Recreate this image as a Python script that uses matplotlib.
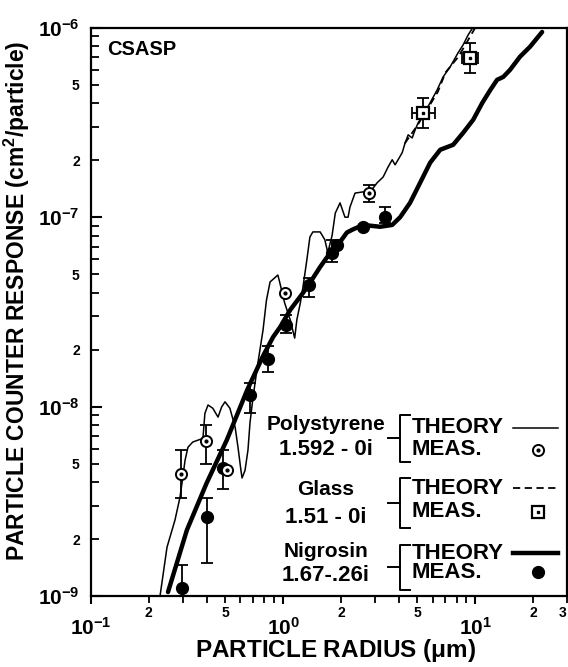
import numpy as np
import matplotlib.pyplot as plt
from matplotlib.lines import Line2D

plt.rcParams['font.family'] = ['Liberation Sans', 'DejaVu Sans']
plt.rcParams['font.weight'] = 'bold'
plt.rcParams['mathtext.fontset'] = 'custom'
plt.rcParams['mathtext.rm'] = 'Liberation Sans:bold'
plt.rcParams['mathtext.bf'] = 'Liberation Sans:bold'
plt.rcParams['mathtext.default'] = 'bf'

# polystyrene 1.592-0i, theory (thin line)
poly_theory_r = [0.229, 0.249, 0.274, 0.291, 0.301, 0.309, 0.320, 0.339, 0.383, 0.392,
                 0.407, 0.431, 0.459, 0.479, 0.499, 0.529, 0.563, 0.583, 0.604, 0.612,
                 0.634, 0.657, 0.673, 0.698, 0.74, 0.787, 0.82, 0.856, 0.94, 0.96,
                 1.02, 1.09, 1.15, 1.18, 1.23, 1.27, 1.33, 1.38, 1.43, 1.56,
                 1.65, 1.71, 1.80, 1.87, 1.98, 2.10, 2.18, 2.23, 2.37, 2.61,
                 2.81, 3.09, 3.32, 3.52, 3.70, 3.83, 3.97, 4.17, 4.32, 4.48,
                 4.70, 4.87, 5.05, 5.30, 5.83, 6.34, 6.81, 7.41, 8.15, 8.66,
                 9.2, 9.77]
poly_theory_s = [1.0e-9, 1.81e-9, 2.52e-9, 3.33e-9, 4.25e-9, 5.2e-9, 6.1e-9, 6.5e-9, 6.8e-9, 9.2e-9,
                 1.02e-8, 9.8e-9, 8.8e-9, 9.95e-9, 1.06e-8, 9.8e-9, 7.8e-9, 6.1e-9, 4.6e-9, 4.2e-9,
                 4.6e-9, 5.9e-9, 8.2e-9, 1.12e-8, 1.7e-8, 2.54e-8, 3.65e-8, 4.55e-8, 4.95e-8, 4.55e-8,
                 3.52e-8, 2.87e-8, 2.3e-8, 2.87e-8, 3.52e-8, 4.28e-8, 5.94e-8, 7.86e-8, 8.36e-8, 8.36e-8,
                 7.6e-8, 6.5e-8, 8.0e-8, 1.05e-7, 1.19e-7, 1.0e-7, 1.0e-7, 1.13e-7, 1.34e-7, 1.36e-7,
                 1.34e-7, 1.52e-7, 1.63e-7, 1.84e-7, 2.01e-7, 1.89e-7, 2.01e-7, 2.19e-7, 2.47e-7, 2.72e-7,
                 2.62e-7, 2.89e-7, 3.15e-7, 3.39e-7, 4.02e-7, 4.7e-7, 5.5e-7, 6.22e-7, 7.38e-7, 8.13e-7,
                 9.18e-7, 1.01e-6]

# glass 1.51-0i, theory (dashed)
glass_theory_r = [4.3, 5.0, 5.8, 6.4, 7.0, 8.15, 9.0, 10.0]
glass_theory_s = [2.45e-7, 3.05e-7, 3.9e-7, 4.6e-7, 5.8e-7, 7.0e-7, 8.3e-7, 1.0e-6]

# nigrosin 1.67-.26i, theory (thick line)
nig_theory_r = [0.252, 0.316, 0.40, 0.51, 0.65, 0.787, 0.888, 0.966, 1.09, 1.27,
                1.38, 1.56, 1.80, 1.98, 2.15, 2.3, 2.61, 3.2, 3.70, 4.07,
                4.58, 5.17, 5.83, 6.58, 7.68, 8.66, 9.77, 10.9, 12.0, 13.0,
                14.0, 15.2, 17.1, 19.3, 22.3]
nig_theory_s = [1.05e-9, 2.23e-9, 3.94e-9, 6.67e-9, 1.22e-8, 1.85e-8, 2.33e-8, 2.63e-8, 3.24e-8, 3.98e-8,
                4.5e-8, 5.46e-8, 6.7e-8, 7.4e-8, 8.3e-8, 8.6e-8, 9.1e-8, 8.9e-8, 9.1e-8, 1.0e-7,
                1.19e-7, 1.52e-7, 1.94e-7, 2.27e-7, 2.41e-7, 2.79e-7, 3.27e-7, 4.02e-7, 4.7e-7, 5.31e-7,
                5.5e-7, 6.0e-7, 7.03e-7, 7.94e-7, 9.5e-7]

# measurements (value, lower and upper end of error bar)
poly_meas_r = [0.294, 0.397, 0.51, 1.02, 2.81]
poly_meas_s = [4.4e-9, 6.6e-9, 4.6e-9, 3.98e-8, 1.34e-7]
poly_meas_lo = [3.3e-9, 5.0e-9, 4.6e-9, 3.98e-8, 1.2e-7]
poly_meas_hi = [5.9e-9, 8.0e-9, 4.6e-9, 3.98e-8, 1.48e-7]

glass_meas_r = [5.36, 9.4]
glass_meas_s = [3.56e-7, 6.95e-7]
glass_meas_lo = [2.96e-7, 5.8e-7]
glass_meas_hi = [4.27e-7, 8.3e-7]
glass_meas_rlo = [4.7, 8.5]
glass_meas_rhi = [6.2, 10.4]

nig_meas_r = [0.298, 0.40, 0.487, 0.67, 0.835, 1.04, 1.36, 1.80, 1.91, 2.61, 3.4]
nig_meas_s = [1.1e-9, 2.6e-9, 4.75e-9, 1.15e-8, 1.78e-8, 2.7e-8, 4.4e-8, 6.5e-8, 7.1e-8, 8.9e-8, 1.0e-7]
nig_meas_lo = [0.9e-9, 1.5e-9, 3.67e-9, 0.93e-8, 1.52e-8, 2.45e-8, 3.8e-8, 5.8e-8, 7.1e-8, 8.9e-8, 0.93e-7]
nig_meas_hi = [1.46e-9, 3.3e-9, 5.9e-9, 1.33e-8, 2.1e-8, 3.05e-8, 4.8e-8, 7.6e-8, 7.1e-8, 8.9e-8, 1.13e-7]


def draw_errors(ax, r, s, lo, hi, rlo=None, rhi=None):
    r, s, lo, hi = map(np.array, (r, s, lo, hi))
    m = (hi > s) | (lo < s)
    yerr = [s[m] - lo[m], hi[m] - s[m]]
    xerr = None
    if rlo is not None:
        rlo, rhi = np.array(rlo), np.array(rhi)
        xerr = [r[m] - rlo[m], rhi[m] - r[m]]
    ax.errorbar(r[m], s[m], yerr=yerr, xerr=xerr, fmt='none', ecolor='black',
                elinewidth=1.3, capsize=4.5, capthick=1.3, zorder=3)


fig = plt.figure(figsize=(5.68, 6.67), dpi=100)
ax = fig.add_axes([0.160, 0.1064, 0.838, 0.852])
ax.set_xscale('log')
ax.set_yscale('log')

ax.plot(poly_theory_r, poly_theory_s, color='black', lw=1.1, zorder=2)
ax.plot(glass_theory_r, glass_theory_s, color='black', lw=1.3, ls=(0, (4, 2.5)), zorder=2)
ax.plot(nig_theory_r, nig_theory_s, color='black', lw=3.2, solid_capstyle='round', zorder=2)

draw_errors(ax, poly_meas_r, poly_meas_s, poly_meas_lo, poly_meas_hi)
draw_errors(ax, glass_meas_r, glass_meas_s, glass_meas_lo, glass_meas_hi,
            glass_meas_rlo, glass_meas_rhi)
draw_errors(ax, nig_meas_r, nig_meas_s, nig_meas_lo, nig_meas_hi)

ax.plot(nig_meas_r, nig_meas_s, 'o', color='black', ms=8.5, zorder=4)
ax.plot(poly_meas_r, poly_meas_s, 'o', mfc='white', mec='black', mew=1.4, ms=8, zorder=5)
ax.plot(poly_meas_r, poly_meas_s, 'o', color='black', ms=2, zorder=6)
ax.plot(glass_meas_r, glass_meas_s, 's', mfc='white', mec='black', mew=1.6, ms=9, zorder=5)
ax.plot(glass_meas_r, glass_meas_s, 's', color='black', ms=2, zorder=6)

ax.set_xlim(0.1, 30)
ax.set_ylim(1e-9, 1e-6)

# ticks
ax.set_xticks([0.1, 1, 10], [r'$10^{-1}$', r'$10^{0}$', r'$10^{1}$'])
xminor = [0.2, 0.3, 0.4, 0.5, 0.6, 0.7, 0.8, 0.9,
          2, 3, 4, 5, 6, 7, 8, 9, 20, 30]
xminor_lab = ['2', '', '', '5', '', '', '', '',
              '2', '', '', '5', '', '', '', '', '2', '3']
ax.set_xticks(xminor, xminor_lab, minor=True)
ax.get_xticklabels(minor=True)[-1].set_horizontalalignment('right')
ax.set_yticks([1e-9, 1e-8, 1e-7, 1e-6],
              [r'$10^{-9}$', r'$10^{-8}$', r'$10^{-7}$', r'$10^{-6}$'])
yminor = [d * k for d in (1e-9, 1e-8, 1e-7) for k in range(2, 10)]
yminor_lab = [{2: '2', 5: '5'}.get(k, '') for d in range(3) for k in range(2, 10)]
ax.set_yticks(yminor, yminor_lab, minor=True)

ax.tick_params(axis='x', which='major', direction='out', length=6, width=1.5,
               pad=9, labelsize=15)
ax.tick_params(axis='x', which='minor', direction='out', length=5, width=1.3,
               pad=2, labelsize=10)
ax.tick_params(axis='y', which='major', direction='in', length=8, width=1.5,
               pad=8, labelsize=15)
ax.tick_params(axis='y', which='minor', direction='in', length=6, width=1.3,
               pad=8, labelsize=10)
for sp in ax.spines.values():
    sp.set_linewidth(1.6)

ax.set_xlabel(r'PARTICLE RADIUS ($\mu$m)', fontsize=17.5, fontweight='bold')
ax.xaxis.set_label_coords(0.515, -0.072)
ax.set_ylabel(r'PARTICLE COUNTER RESPONSE (cm$^2$/particle)', fontsize=16.5,
              fontweight='bold')
ax.yaxis.set_label_coords(-0.124, 0.52)

ax.text(0.034, 0.961, 'CSASP', transform=ax.transAxes, fontsize=14.5,
        fontweight='bold', ha='left', va='center')

# legend block drawn in axes fractions
groups = [('Polystyrene', '1.592 - 0i', 0.301, 0.257, 0.319, 0.236, 0.296, 0.257),
          ('Glass', '1.51 - 0i', 0.187, 0.139, 0.208, 0.120, 0.190, 0.148),
          ('Nigrosin', '1.67-.26i', 0.0775, 0.037, 0.090, 0.011, 0.0757, 0.042)]
tr = ax.transAxes
for name, index, y1, y2, btop, bbot, yth, yme in groups:
    ax.text(0.494, y1, name, transform=tr, ha='center', va='center', fontsize=15)
    ax.text(0.494, y2, index, transform=tr, ha='center', va='center', fontsize=16)
    bmid = (btop + bbot) / 2
    ax.add_line(Line2D([0.670, 0.649, 0.649, 0.670], [btop, btop, bbot, bbot],
                       transform=tr, color='black', lw=1.4))
    ax.add_line(Line2D([0.624, 0.649], [bmid, bmid], transform=tr, color='black', lw=1.4))
    ax.text(0.674, yth, 'THEORY', transform=tr, ha='left', va='center', fontsize=16)
    ax.text(0.674, yme, 'MEAS.', transform=tr, ha='left', va='center', fontsize=16)

ax.add_line(Line2D([0.887, 0.981], [0.296, 0.296], transform=tr, color='black', lw=1.1))
ax.add_line(Line2D([0.887, 0.981], [0.190, 0.190], transform=tr, color='black', lw=1.3,
                   ls=(0, (4, 2.5))))
ax.add_line(Line2D([0.887, 0.981], [0.0757, 0.0757], transform=tr, color='black', lw=3.2))
ax.plot([0.939], [0.257], 'o', transform=tr, mfc='white', mec='black', mew=1.4, ms=8)
ax.plot([0.939], [0.257], 'o', transform=tr, color='black', ms=2)
ax.plot([0.939], [0.148], 's', transform=tr, mfc='white', mec='black', mew=1.6, ms=9)
ax.plot([0.939], [0.148], 's', transform=tr, color='black', ms=2)
ax.plot([0.939], [0.042], 'o', transform=tr, color='black', ms=8.5)

fig.savefig('out.png', dpi=100)
